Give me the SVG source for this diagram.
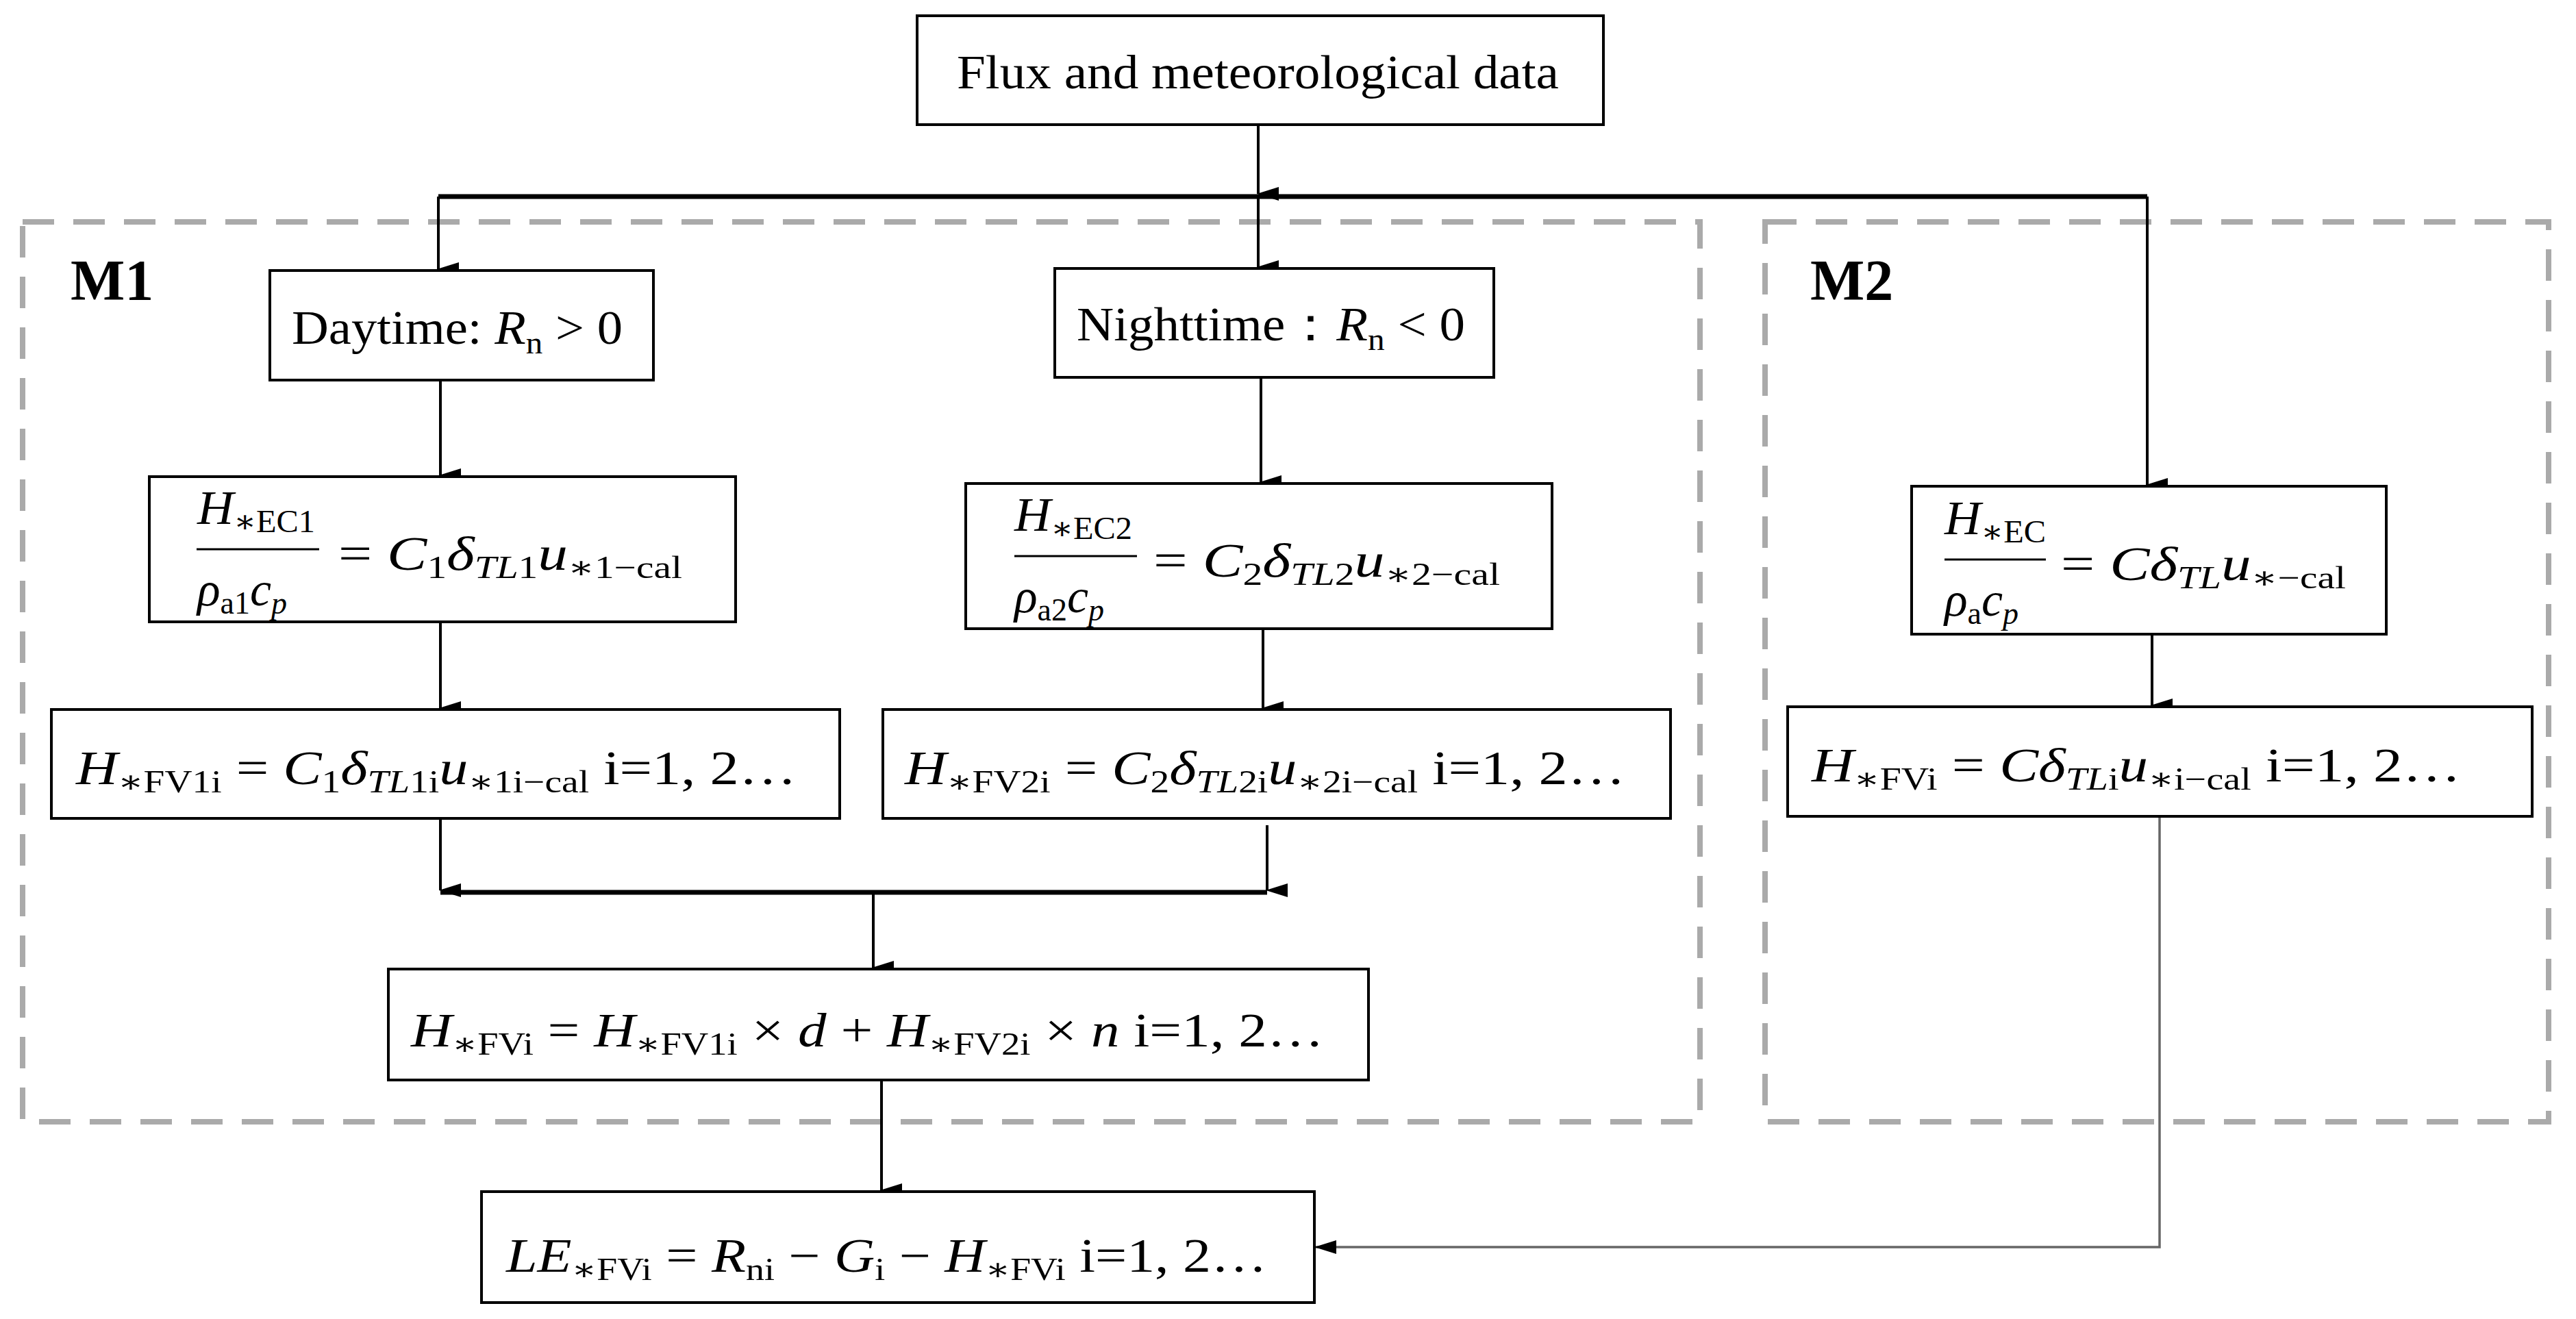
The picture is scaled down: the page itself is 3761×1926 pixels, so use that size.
<svg xmlns="http://www.w3.org/2000/svg" width="3761" height="1926" viewBox="0 0 3761 1926">
<style>
.box{fill:#fff;stroke:#000;stroke-width:4}
.grp{fill:none;stroke:#aaa;stroke-width:8;stroke-dasharray:46 28}
.ln{fill:none;stroke:#000;stroke-width:4}
.bus{fill:none;stroke:#000;stroke-width:7}
.gl{fill:none;stroke:#666;stroke-width:3.5}
text{font-family:"Liberation Serif","DejaVu Serif",serif;font-size:70px;fill:#000}
.i{font-style:italic}
.s{font-size:46px}
.lbl{font-weight:bold;font-size:84px}
</style>
<defs>
<marker id="a" markerUnits="userSpaceOnUse" markerWidth="20" markerHeight="32" refX="10" refY="30" orient="auto-start-reverse" viewBox="0 0 20 32"><path d="M0,0 L20,0 L10,32 Z" fill="#000"/></marker>
<marker id="al" markerUnits="userSpaceOnUse" markerWidth="32" markerHeight="20" refX="2" refY="10" viewBox="0 0 32 20"><path d="M0,10 L32,0 L32,20 Z" fill="#000"/></marker>
</defs>
<g id="groups">
<rect id="M1" class="grp" x="33" y="324" width="2449" height="1314"/>
<rect id="M2" class="grp" x="2577" y="324" width="1144" height="1314"/>
<text class="lbl" x="103" y="438">M1</text>
<text class="lbl" x="2643" y="438">M2</text>
</g>
<g id="connectors">
<path class="ln" d="M1837,182 V283" marker-end="url(#a)"/>
<path class="bus" d="M640,287 H3135"/>
<path class="ln" d="M640,287 V393" marker-end="url(#a)"/>
<path class="ln" d="M1837,287 V390" marker-end="url(#a)"/>
<path class="ln" d="M3135,287 V708" marker-end="url(#a)"/>
<path class="ln" d="M643,555 V694" marker-end="url(#a)"/>
<path class="ln" d="M1841,551 V704" marker-end="url(#a)"/>
<path class="ln" d="M643,908 V1034" marker-end="url(#a)"/>
<path class="ln" d="M1844,918 V1034" marker-end="url(#a)"/>
<path class="ln" d="M3142,926 V1030" marker-end="url(#a)"/>
<path class="ln" d="M643,1195 V1300" marker-end="url(#a)"/>
<path class="ln" d="M1850,1205 V1300" marker-end="url(#a)"/>
<path class="bus" d="M643,1303 H1850"/>
<path class="ln" d="M1275,1303 V1413" marker-end="url(#a)"/>
<path class="ln" d="M1287,1577 V1738" marker-end="url(#a)"/>
<path class="gl" d="M3153,1192 V1821 H1921" marker-end="url(#al)"/>
</g>
<g id="top"><rect class="box" x="1339" y="23" width="1002" height="159"/>
<text x="1397" y="129" textLength="879" lengthAdjust="spacingAndGlyphs">Flux and meteorological data</text></g>
<g id="day"><rect class="box" x="394" y="395" width="560" height="160"/>
<text x="426" y="502" textLength="483" lengthAdjust="spacingAndGlyphs">Daytime: <tspan class="i">R</tspan><tspan class="s" dy="14">n</tspan><tspan dy="-14"> &gt; 0</tspan></text></g>
<g id="night"><rect class="box" x="1540" y="392" width="641" height="159"/>
<text x="1572" y="497" textLength="567" lengthAdjust="spacingAndGlyphs">Nighttime：<tspan class="i">R</tspan><tspan class="s" dy="14">n</tspan><tspan dy="-14"> &lt; 0</tspan></text></g>
<g id="eq1"><rect class="box" x="218" y="696" width="856" height="212"/>
<text x="288" y="765" textLength="172" lengthAdjust="spacingAndGlyphs"><tspan class="i">H</tspan><tspan class="s" dy="12">∗EC1</tspan></text>
<path class="ln" d="M287,802 H466" style="stroke-width:3"/>
<text x="288" y="884"><tspan class="i">ρ</tspan><tspan class="s" dy="12">a1</tspan><tspan class="i" dy="-12">c</tspan><tspan class="s i" dy="12">p</tspan></text>
<text x="494" y="832" textLength="502" lengthAdjust="spacingAndGlyphs">= <tspan class="i">C</tspan><tspan class="s" dy="12">1</tspan><tspan class="i" dy="-12">δ</tspan><tspan class="s i" dy="12">TL</tspan><tspan class="s">1</tspan><tspan class="i" dy="-12">u</tspan><tspan class="s" dy="12">∗1−cal</tspan></text></g>
<g id="eq2"><rect class="box" x="1410" y="706" width="856" height="212"/>
<text x="1481" y="775" textLength="172" lengthAdjust="spacingAndGlyphs"><tspan class="i">H</tspan><tspan class="s" dy="12">∗EC2</tspan></text>
<path class="ln" d="M1481,812 H1660" style="stroke-width:3"/>
<text x="1481" y="894"><tspan class="i">ρ</tspan><tspan class="s" dy="12">a2</tspan><tspan class="i" dy="-12">c</tspan><tspan class="s i" dy="12">p</tspan></text>
<text x="1684" y="842" textLength="506" lengthAdjust="spacingAndGlyphs">= <tspan class="i">C</tspan><tspan class="s" dy="12">2</tspan><tspan class="i" dy="-12">δ</tspan><tspan class="s i" dy="12">TL</tspan><tspan class="s">2</tspan><tspan class="i" dy="-12">u</tspan><tspan class="s" dy="12">∗2−cal</tspan></text></g>
<g id="eq3"><rect class="box" x="2791" y="710" width="693" height="216"/>
<text x="2839" y="780" textLength="148" lengthAdjust="spacingAndGlyphs"><tspan class="i">H</tspan><tspan class="s" dy="12">∗EC</tspan></text>
<path class="ln" d="M2839,817 H2987" style="stroke-width:3"/>
<text x="2839" y="899"><tspan class="i">ρ</tspan><tspan class="s" dy="12">a</tspan><tspan class="i" dy="-12">c</tspan><tspan class="s i" dy="12">p</tspan></text>
<text x="3009" y="847" textLength="416" lengthAdjust="spacingAndGlyphs">= <tspan class="i">Cδ</tspan><tspan class="s i" dy="12">TL</tspan><tspan class="i" dy="-12">u</tspan><tspan class="s" dy="12">∗−cal</tspan></text></g>
<g id="fv1"><rect class="box" x="75" y="1036" width="1151" height="159"/>
<text x="111" y="1145" textLength="1052" lengthAdjust="spacingAndGlyphs"><tspan class="i">H</tspan><tspan class="s" dy="12">∗FV1i</tspan><tspan dy="-12"> = </tspan><tspan class="i">C</tspan><tspan class="s" dy="12">1</tspan><tspan class="i" dy="-12">δ</tspan><tspan class="s i" dy="12">TL</tspan><tspan class="s">1i</tspan><tspan class="i" dy="-12">u</tspan><tspan class="s" dy="12">∗1i−cal</tspan><tspan dy="-12">  i=1, 2…</tspan></text></g>
<g id="fv2"><rect class="box" x="1289" y="1036" width="1150" height="159"/>
<text x="1321" y="1145" textLength="1052" lengthAdjust="spacingAndGlyphs"><tspan class="i">H</tspan><tspan class="s" dy="12">∗FV2i</tspan><tspan dy="-12"> = </tspan><tspan class="i">C</tspan><tspan class="s" dy="12">2</tspan><tspan class="i" dy="-12">δ</tspan><tspan class="s i" dy="12">TL</tspan><tspan class="s">2i</tspan><tspan class="i" dy="-12">u</tspan><tspan class="s" dy="12">∗2i−cal</tspan><tspan dy="-12">  i=1, 2…</tspan></text></g>
<g id="fv3"><rect class="box" x="2610" y="1032" width="1087" height="160"/>
<text x="2645" y="1141" textLength="948" lengthAdjust="spacingAndGlyphs"><tspan class="i">H</tspan><tspan class="s" dy="12">∗FVi</tspan><tspan dy="-12"> = </tspan><tspan class="i">Cδ</tspan><tspan class="s i" dy="12">TL</tspan><tspan class="s">i</tspan><tspan class="i" dy="-12">u</tspan><tspan class="s" dy="12">∗i−cal</tspan><tspan dy="-12">   i=1, 2…</tspan></text></g>
<g id="comb"><rect class="box" x="567" y="1415" width="1431" height="162"/>
<text x="600" y="1528" textLength="1333" lengthAdjust="spacingAndGlyphs"><tspan class="i">H</tspan><tspan class="s" dy="12">∗FVi</tspan><tspan dy="-12"> = </tspan><tspan class="i">H</tspan><tspan class="s" dy="12">∗FV1i</tspan><tspan dy="-12"> × </tspan><tspan class="i">d</tspan><tspan>  + </tspan><tspan class="i">H</tspan><tspan class="s" dy="12">∗FV2i</tspan><tspan dy="-12"> × </tspan><tspan class="i">n</tspan><tspan>   i=1, 2…</tspan></text></g>
<g id="le"><rect class="box" x="703" y="1740" width="1216" height="162"/>
<text x="739" y="1857" textLength="1111" lengthAdjust="spacingAndGlyphs"><tspan class="i">LE</tspan><tspan class="s" dy="12">∗FVi</tspan><tspan dy="-12"> = </tspan><tspan class="i">R</tspan><tspan class="s" dy="12">ni</tspan><tspan dy="-12"> − </tspan><tspan class="i">G</tspan><tspan class="s" dy="12">i</tspan><tspan dy="-12"> − </tspan><tspan class="i">H</tspan><tspan class="s" dy="12">∗FVi</tspan><tspan dy="-12">   i=1, 2…</tspan></text></g>
</svg>
